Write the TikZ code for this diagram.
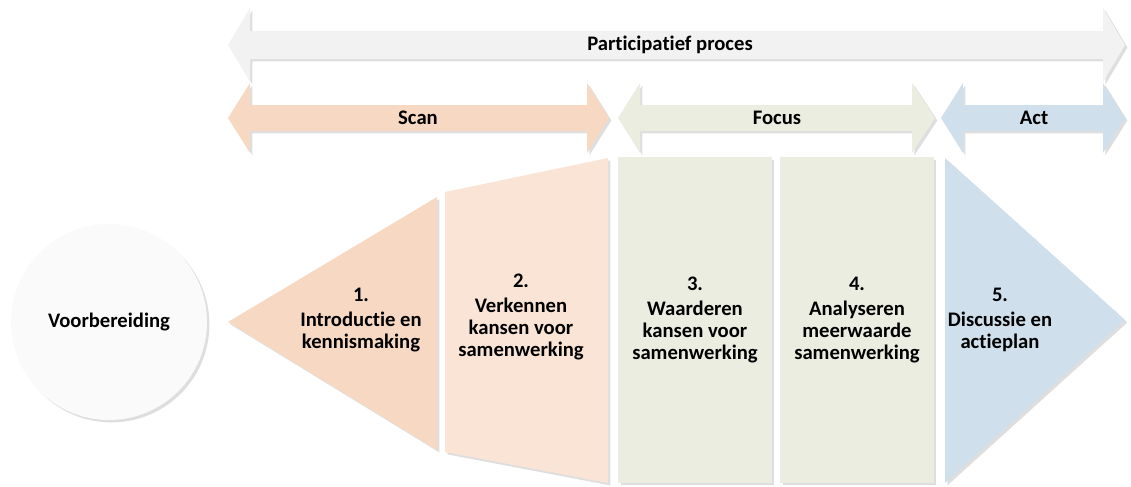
\documentclass[tikz,border=0pt]{standalone}
\usepackage{fontspec}
\setmainfont{Carlito}[Ligatures=NoCommon]
\usetikzlibrary{shadows}

\definecolor{procgray}{HTML}{F2F2F2}
\definecolor{prepgray}{HTML}{FAFAFA}
\definecolor{shadowgray}{HTML}{DEDEDE}
\definecolor{scanpeach}{HTML}{F7D9C3}
\definecolor{scanlight}{HTML}{FAE4D5}
\definecolor{focusgreen}{HTML}{EBEDE1}
\definecolor{actblue}{HTML}{CFDFEB}

\begin{document}
\begin{tikzpicture}[x=0.75pt, y=-0.75pt,
    castshadow/.style={drop shadow={shadow xshift=1.8pt, shadow yshift=-1.8pt, fill=shadowgray, opacity=1}},
    bigtxt/.style={font=\bfseries\fontsize{15.5}{16.5}\selectfont, align=center},
    stepbox/.style={bigtxt, castshadow, minimum width=115pt, minimum height=244pt, inner sep=0pt}
]
\useasboundingbox (0,0) rectangle (1131,486);

% Phase arrows on top
\fill[procgray, castshadow] (228,45) -- (250,8) -- (250,31) -- (1103,31) -- (1103,8) -- (1125,45) -- (1103,82) -- (1103,59) -- (250,59) -- (250,82) -- cycle;
\fill[scanpeach, castshadow] (228,118) -- (250,83) -- (250,105) -- (587,105) -- (587,83) -- (609,118) -- (587,153) -- (587,131) -- (250,131) -- (250,153) -- cycle;
\fill[focusgreen, castshadow] (618,118) -- (640,83) -- (640,105) -- (912,105) -- (912,83) -- (935,118) -- (912,153) -- (912,131) -- (640,131) -- (640,153) -- cycle;
\fill[actblue, castshadow] (941,118) -- (963,83) -- (963,105) -- (1103,105) -- (1103,83) -- (1125,118) -- (1103,153) -- (1103,131) -- (963,131) -- (963,153) -- cycle;

\node[bigtxt] (proc) at (670,45) {Participatief proces};
\node[bigtxt] (scan) at (418,118) {Scan};
\node[bigtxt] (focus) at (777,118) {Focus};
\node[bigtxt] (act) at (1034,118) {Act};

% Steps below
\node[circle, fill=prepgray, castshadow, minimum size=147pt, bigtxt] (prep) at (109,322) {Voorbereiding};

\fill[scanpeach, castshadow] (228,322) -- (437,197) -- (437,450) -- cycle;
\node[bigtxt] (s1) at (361,320) {1.\\[2pt]Introductie en\\kennismaking};

\fill[scanlight, castshadow] (445,192) -- (608,158) -- (608,483) -- (445,452) -- cycle;
\node[bigtxt] (s2) at (521,317) {2.\\[2pt]Verkennen\\kansen voor\\samenwerking};

\node[stepbox, fill=focusgreen] (s3) at (695,320) {3.\\[2pt]Waarderen\\kansen voor\\samenwerking};
\node[stepbox, fill=focusgreen] (s4) at (857,320) {4.\\[2pt]Analyseren\\meerwaarde\\samenwerking};

\fill[actblue, castshadow] (945,158) -- (1125,320) -- (945,483) -- cycle;
\node[bigtxt] (s5) at (1000,320) {5.\\[2pt]Discussie en\\actieplan};
\end{tikzpicture}
\end{document}
